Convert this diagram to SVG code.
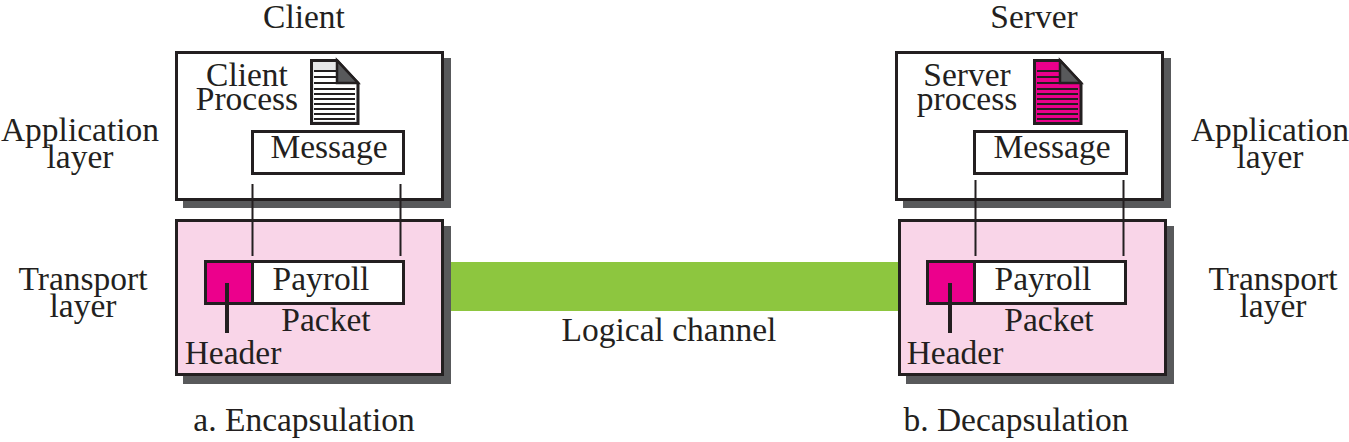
<svg xmlns="http://www.w3.org/2000/svg" width="1349" height="442" viewBox="0 0 1349 442">
<style>
text{font-family:"Liberation Serif","Times New Roman",serif;font-size:33.500px;fill:#231f20;text-anchor:middle}
.sh{fill:#58595b}
.box{fill:#fff;stroke:#231f20;stroke-width:3}
.pink{fill:#f9d5e8;stroke:#231f20;stroke-width:3}
.mag{fill:#ec008c;stroke:#231f20;stroke-width:3}
.ln{stroke:#231f20;stroke-width:2;fill:none}
.hd{stroke:#231f20;stroke-width:4;fill:none}
.rule{stroke:#231f20;stroke-width:2;fill:none}
</style>
<rect width="1349" height="442" fill="#fff"/>
<text x="304" y="28">Client</text>
<text x="1034" y="28">Server</text>
<text x="80" y="141">Application</text>
<text x="80" y="168">layer</text>
<text x="1270" y="141">Application</text>
<text x="1270" y="168">layer</text>
<text x="83" y="290">Transport</text>
<text x="83" y="317">layer</text>
<text x="1273" y="290">Transport</text>
<text x="1273" y="317">layer</text>
<text x="304" y="431">a. Encapsulation</text>
<text x="1016" y="431">b. Decapsulation</text>
<g id="channel"><rect x="451" y="262" width="448" height="49" fill="#8dc63f"/><text x="669" y="341">Logical channel</text></g>
<g id="client-app">
<rect class="sh" x="183" y="58" width="268" height="150"/>
<rect class="box" x="176.500" y="52.500" width="266" height="147"/>
<text x="247" y="86">Client</text><text x="247" y="110">Process</text>
<g id="client-doc">
<path d="M311.500 60.500H337L358 83V123.500H311.500Z" fill="#e6e7e8" stroke="#231f20" stroke-width="3"/>
<rect x="314" y="70" width="23" height="14" fill="#fff"/><rect x="314" y="84" width="42" height="37" fill="#fff"/>
<path d="M337 60.500V83H358Z" fill="#58595b" stroke="#231f20" stroke-width="2.500"/>
<path class="rule" d="M314 71H336M314 77H336M314 83H336M314 89H355M314 94H355M314 99H355M314 104H355M314 109H355M314 114H355M314 119H355"/>
</g>
<rect class="box" x="252.500" y="131.500" width="151" height="42"/>
<text x="329" y="158">Message</text>
</g>
<g id="client-transport">
<rect class="sh" x="183" y="226" width="268" height="158"/>
<rect class="pink" x="176.500" y="220.500" width="266" height="154"/>
<rect class="box" x="205.500" y="261.500" width="198" height="42"/>
<rect class="mag" x="205.500" y="261.500" width="47" height="42"/>
<text x="321" y="290">Payroll</text>
<text x="326" y="331">Packet</text>
<text x="233" y="364">Header</text>
<line class="hd" x1="227" y1="283" x2="227" y2="333"/>
</g>
<g id="server-app">
<rect class="sh" x="903" y="58" width="268" height="150"/>
<rect class="box" x="896.500" y="52.500" width="266" height="147"/>
<text x="967" y="86">Server</text><text x="967" y="110">process</text>
<g id="server-doc">
<path d="M1034.500 60.500H1060L1081 83V123.500H1034.500Z" fill="#ec008c" stroke="#231f20" stroke-width="3"/>
<path d="M1060 60.500V83H1081Z" fill="#58595b" stroke="#231f20" stroke-width="2.500"/>
<path class="rule" d="M1037 71H1059M1037 77H1059M1037 83H1059M1037 89H1078M1037 94H1078M1037 99H1078M1037 104H1078M1037 109H1078M1037 114H1078M1037 119H1078"/>
</g>
<rect class="box" x="974.500" y="131.500" width="152" height="42"/>
<text x="1052" y="158">Message</text>
</g>
<g id="server-transport">
<rect class="sh" x="906" y="226" width="268" height="158"/>
<rect class="pink" x="899.500" y="220.500" width="266" height="154"/>
<rect class="box" x="927.500" y="261.500" width="198" height="42"/>
<rect class="mag" x="927.500" y="261.500" width="47" height="42"/>
<text x="1043" y="290">Payroll</text>
<text x="1049" y="331">Packet</text>
<text x="955" y="364">Header</text>
<line class="hd" x1="950" y1="283" x2="950" y2="333"/>
</g>
<g id="connectors">
<path class="ln" d="M252.500 184V256M400.500 184V256M975.500 180V256M1123.500 180V256"/>
</g>
</svg>
